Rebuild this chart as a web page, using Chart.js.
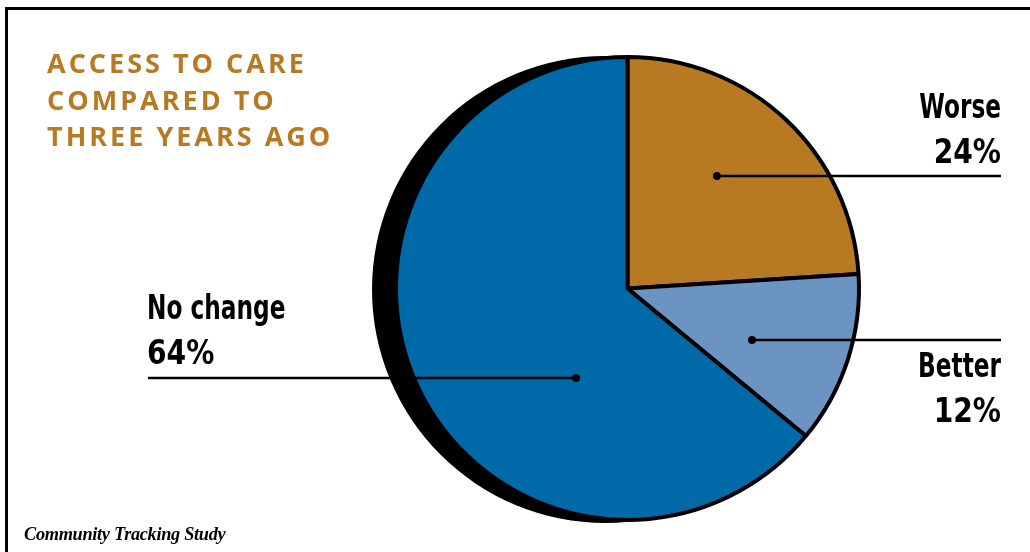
<!DOCTYPE html>
<html>
<head>
<meta charset="utf-8">
<script src="https://cdn.jsdelivr.net/npm/chart.js@4.4.0/dist/chart.umd.min.js"></script>
<style>
  html, body { margin: 0; padding: 0; background: #fff; }
  #wrap { position: relative; width: 1030px; height: 552px; overflow: hidden; }
  #frame { position: absolute; left: 5px; top: 7px; width: 1040px; height: 560px; border: 3px solid #000; box-sizing: border-box; }
  canvas { position: absolute; left: 0; top: 0; }
</style>
</head>
<body>
<div id="wrap">
  <div id="frame"></div>
  <canvas id="pie" width="1030" height="552"></canvas>
</div>
<script>
// data
const categories = ["Worse", "Better", "No change"];
const shares = [24, 12, 64];
const titleLines = ["ACCESS TO CARE", "COMPARED TO", "THREE YEARS AGO"];
const source = "Community Tracking Study";

// styles
const sliceColors = ["#B77A22", "#6B94C3", "#0069A8"];
const gold = "#B77A22";
// where each callout dot sits: angle from top (deg, clockwise) and fraction of radius
const dotAngle = [38.5, 112, 210];
const dotFrac = [0.62, 0.58, 0.445];
// callout text: x, align, first baseline, line end x
const labelX = [1001, 1001, 147];
const labelAlign = ["right", "right", "left"];
const labelY = [118, 377, 319];
const lineY = [176, 340, 378];
const lineEndX = [1001, 1001, 148];
const squeezeName = 0.76;
const squeezePct = 0.92;

const shadowPlugin = {
  id: "shadow",
  beforeDatasetsDraw(chart) {
    const arc = chart.getDatasetMeta(0).data[0];
    const ctx = chart.ctx;
    ctx.save();
    ctx.beginPath();
    ctx.arc(arc.x - 22, arc.y + 1, arc.outerRadius + 2, 0, Math.PI * 2);
    ctx.fillStyle = "#000";
    ctx.fill();
    ctx.restore();
  }
};

function squeezedText(ctx, txt, x, y, sx, align) {
  ctx.save();
  ctx.translate(x, 0);
  ctx.scale(sx, 1);
  ctx.textAlign = align;
  ctx.fillText(txt, 0, y);
  ctx.restore();
}

const calloutPlugin = {
  id: "callouts",
  afterDatasetsDraw(chart) {
    const arc = chart.getDatasetMeta(0).data[0];
    const ctx = chart.ctx;
    ctx.save();
    categories.forEach((name, i) => {
      const a = dotAngle[i] * Math.PI / 180;
      const r = arc.outerRadius * dotFrac[i];
      const dx = arc.x + r * Math.sin(a);
      const dy = lineY[i];
      ctx.strokeStyle = "#000";
      ctx.lineWidth = 2.5;
      ctx.beginPath();
      ctx.moveTo(dx, dy);
      ctx.lineTo(lineEndX[i], dy);
      ctx.stroke();
      ctx.beginPath();
      ctx.arc(dx, dy, 4, 0, Math.PI * 2);
      ctx.fillStyle = "#000";
      ctx.fill();

      ctx.font = "bold 34px 'DejaVu Sans Condensed', 'DejaVu Sans', sans-serif";
      ctx.textBaseline = "alphabetic";
      squeezedText(ctx, name, labelX[i], labelY[i], squeezeName, labelAlign[i]);
      squeezedText(ctx, shares[i] + "%", labelX[i], labelY[i] + 45, squeezePct, labelAlign[i]);
    });

    ctx.fillStyle = gold;
    ctx.font = "bold 27px 'Open Sans', sans-serif";
    ctx.textAlign = "left";
    ctx.letterSpacing = "3px";
    titleLines.forEach((t, i) => ctx.fillText(t, 47, 73 + i * 36.5));

    ctx.letterSpacing = "-0.3px";
    ctx.fillStyle = "#000";
    ctx.font = "bold italic 18.3px 'Liberation Serif', serif";
    ctx.fillText(source, 24, 540);
    ctx.restore();
  }
};

new Chart(document.getElementById("pie"), {
  type: "pie",
  data: {
    labels: categories,
    datasets: [{
      data: shares,
      backgroundColor: sliceColors,
      borderColor: "#000",
      borderWidth: 4
    }]
  },
  options: {
    responsive: false,
    animation: false,
    layout: { padding: { left: 394, right: 169, top: 55, bottom: 30 } },
    plugins: {
      legend: { display: false },
      tooltip: { enabled: false }
    }
  },
  plugins: [shadowPlugin, calloutPlugin]
});
</script>
</body>
</html>
